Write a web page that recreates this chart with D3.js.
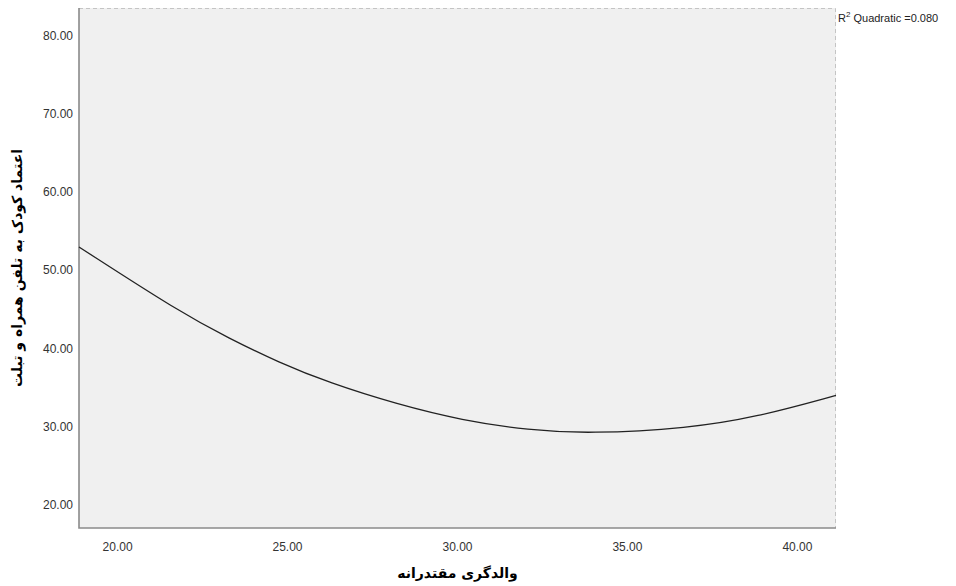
<!doctype html>
<html>
<head>
<meta charset="utf-8" />
<script src="https://cdn.jsdelivr.net/npm/d3@7"></script>
<style>
  html, body { margin: 0; padding: 0; background: #fff; overflow: hidden; }
  svg { display: block; }
</style>
</head>
<body>
<script>
// points
const fitX = [18.88, 21.82, 23.29, 24.76, 26.24, 28.21, 30.15, 32.12, 33.88, 36.82, 38.79, 41.15];
const fitY = [52.95, 44.70, 41.30, 38.20, 35.60, 32.90, 30.80, 29.55, 29.10, 29.80, 31.20, 34.00];
const xTicks = [20, 25, 30, 35, 40];
const yTicks = [20, 30, 40, 50, 60, 70, 80];
const xTitle = "والدگری مقتدرانه";
const yTitle = "اعتماد کودک به تلفن همراه و تبلت";
const r2Text = "0.080";

const width = 956, height = 586;
const m = {left: 79, right: 120, top: 8, bottom: 58};

const svg = d3.select("body").append("svg")
  .attr("width", width).attr("height", height);

const x = d3.scaleLinear().domain([18.88, 41.15]).range([m.left, width - m.right]);
const y = d3.scaleLinear().domain([17.06, 83.47]).range([height - m.bottom, m.top]);

// plot background
svg.append("rect")
  .attr("x", x.range()[0]).attr("y", y.range()[1])
  .attr("width", x.range()[1] - x.range()[0])
  .attr("height", y.range()[0] - y.range()[1])
  .attr("fill", "#f0f0f0");

// dashed top / right border
svg.append("path")
  .attr("d", `M${x.range()[0]},${y.range()[1] + 0.5}H${x.range()[1] - 0.5}V${y.range()[0]}`)
  .attr("fill", "none").attr("stroke", "#c4c4c4").attr("stroke-dasharray", "4,3");

// solid left / bottom axis lines
svg.append("path")
  .attr("d", `M${x.range()[0]},${y.range()[1]}V${y.range()[0]}H${x.range()[1]}`)
  .attr("fill", "none").attr("stroke", "#8a8a8a").attr("stroke-width", 1.6);

const xAxis = svg.append("g")
  .attr("transform", `translate(0,${y.range()[0]})`)
  .call(d3.axisBottom(x).tickValues(xTicks).tickFormat(d3.format(".2f")).tickSize(0).tickPadding(14));
const yAxis = svg.append("g")
  .attr("transform", `translate(${x.range()[0]},0)`)
  .call(d3.axisLeft(y).tickValues(yTicks).tickFormat(d3.format(".2f")).tickSize(0).tickPadding(6));
[xAxis, yAxis].forEach(g => {
  g.select(".domain").remove();
  g.selectAll("text")
    .attr("fill", "#333")
    .style("font", "12px 'Liberation Sans', Arial, sans-serif");
});

// fit line
const pts = fitX.map((v, i) => [v, fitY[i]]);
svg.append("path")
  .datum(pts)
  .attr("fill", "none")
  .attr("stroke", "#222")
  .attr("stroke-width", 1.3)
  .attr("d", d3.line().x(d => x(d[0])).y(d => y(d[1])).curve(d3.curveBasis));

// R2 label
const r2 = svg.append("text")
  .attr("x", x.range()[1] + 2).attr("y", 22)
  .attr("fill", "#222")
  .style("font", "11px 'Liberation Sans', Arial, sans-serif");
r2.append("tspan").text("R");
r2.append("tspan").attr("dy", -5).style("font-size", "8px").text("2");
r2.append("tspan").attr("dy", 5).text(" Quadratic =" + r2Text);

// axis titles
svg.append("text")
  .attr("x", (x.range()[0] + x.range()[1]) / 2).attr("y", 578)
  .attr("text-anchor", "middle").attr("direction", "rtl")
  .attr("fill", "#000")
  .style("font", "bold 14px 'DejaVu Sans', sans-serif")
  .text(xTitle);

svg.append("text")
  .attr("transform", `translate(22,${(y.range()[0] + y.range()[1]) / 2}) rotate(-90)`)
  .attr("text-anchor", "middle").attr("direction", "rtl")
  .attr("fill", "#000")
  .style("font", "bold 14px 'DejaVu Sans', sans-serif")
  .text(yTitle);
</script>
</body>
</html>
